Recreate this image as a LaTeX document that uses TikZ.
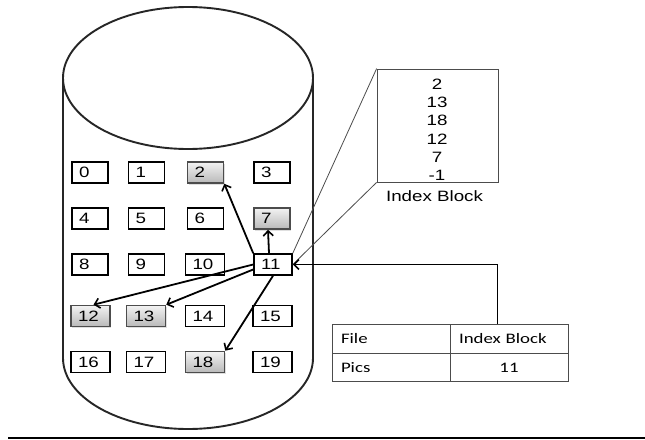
\documentclass[tikz,border=0pt]{standalone}
\usepackage{fontspec}
\newfontfamily\boxfont{Liberation Sans}[FakeStretch=1.25]
\newfontfamily\tabfont{Carlito}[FakeStretch=1.3]
\usetikzlibrary{arrows.meta,shadows,calc}
\begin{document}
\begin{tikzpicture}[x=1pt,y=-1pt,
  blk/.style={draw=black, line width=1.6pt, fill=white, minimum height=21pt,
    inner xsep=7pt, inner ysep=0pt, text width=#1, align=left,
    font=\boxfont\fontsize{15}{17}\selectfont},
  blk/.default=22pt,
  used/.style={draw=black!70, top color=gray!10, bottom color=gray!55,
    drop shadow={shadow xshift=1pt, shadow yshift=-1.5pt, opacity=0.25}},
  ptr/.style={line width=1.8pt, -{Straight Barb[length=5pt,width=10pt,line width=1.6pt]}},
  guide/.style={draw=black!70, line width=0.8pt},
  lbl/.style={anchor=base, inner sep=0pt, font=\boxfont\fontsize{15}{17}\selectfont},
  cell/.style={draw=black!70, line width=1pt, minimum width=118pt, minimum height=28.5pt,
    inner xsep=9pt, inner ysep=0pt, text width=100pt, align=left,
    font=\tabfont\fontsize{14.5}{16}\selectfont}]

\fill[white] (0,0) rectangle (645,439);
\useasboundingbox (0,0) rectangle (645,439);

% disk drawn as a cylinder
\draw[line width=1.9pt, black!85] (188,78) ellipse [x radius=125, y radius=71];
\draw[line width=1.9pt, black!85] (63,78) -- (63,358)
  arc[start angle=180, end angle=0, x radius=125, y radius=71] -- (313,78);

% disk blocks
\node[blk] (b0) at (90,172.5) {0};
\node[blk] (b1) at (146.5,172.5) {1};
\node[blk,used] (b2) at (205.5,172.5) {2};
\node[blk] (b3) at (272,172.5) {3};
\node[blk] (b4) at (90,218.5) {4};
\node[blk] (b5) at (146.5,218.5) {5};
\node[blk] (b6) at (205.5,218.5) {6};
\node[blk,used] (b7) at (272,218.5) {7};
\node[blk] (b8) at (90,264.5) {8};
\node[blk] (b9) at (146.5,264.5) {9};
\node[blk=25pt] (b10) at (205,264.5) {10};
\node[blk=24pt] (b11) at (273,264.5) {11};
\node[blk=25pt,used] (b12) at (90.5,316) {12};
\node[blk=25pt,used] (b13) at (146,316) {13};
\node[blk=25pt] (b14) at (205,316) {14};
\node[blk=25pt] (b15) at (272.5,316) {15};
\node[blk=25pt] (b16) at (90.5,362) {16};
\node[blk=25pt] (b17) at (146,362) {17};
\node[blk=25pt,used] (b18) at (205,362) {18};
\node[blk=25pt] (b19) at (272.5,362) {19};

% pointers held in the index block
\draw[ptr] (b11.north west) -- (b2.south east);
\draw[ptr] ([xshift=-4pt]b11.north) -- ([xshift=-4pt]b7.south);
\draw[ptr] (b11.west) -- ([xshift=3pt]b12.north);
\draw[ptr] ([yshift=-5pt]b11.west) -- (b13.north east);
\draw[ptr] (b11.south) -- (b18.north east);

% enlarged index block
\node[guide, minimum width=121pt, minimum height=113pt, inner sep=0pt] (ibox) at (437.5,125.5) {};
\foreach \v [count=\i from 0] in {2,13,18,12,7,-1}
  \node[lbl] (ib\i) at (437,{89.5+18.2*\i}) {\v};
\node[lbl] (iblabel) at (434.5,201.7) {Index Block};
\draw[guide] (ibox.north west) -- (b11.north east);
\draw[guide] (ibox.south west) -- (b11.east);

% directory entry
\node[cell] (tf) at (391,339) {File};
\node[cell] (tib) at (509,339) {Index Block};
\node[cell] (tp) at (391,367.5) {Pics};
\node[cell, align=center] (tv) at (509,367.5) {11};
\coordinate (tap) at ($(tib.north west)+(48,0)$);
\draw[ptr] (tap) |- (b11.east);

% rule under the figure
\draw[line width=2pt] (8,438) -- (645,438);
\end{tikzpicture}
\end{document}
